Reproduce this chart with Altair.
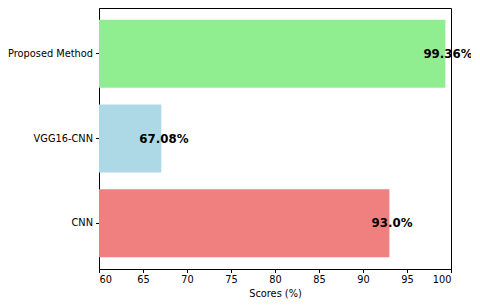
import altair as alt
import pandas as pd

models = ["CNN", "VGG16-CNN", "Proposed Method"]
scores = [93.0, 67.08, 99.36]
labels = ["93.0%", "67.08%", "99.36%"]
colors = ["#F08080", "#ADD8E6", "#90EE90"]
x_ticks = [60, 65, 70, 75, 80, 85, 90, 95, 100]

df = pd.DataFrame({"model": models, "score": scores, "label": labels})
order = list(reversed(models))

y = alt.Y("model:N", sort=order, title=None,
          scale=alt.Scale(paddingInner=0.2, paddingOuter=0.14),
          axis=alt.Axis(labelFontSize=9.8, labelColor="black", tickColor="black",
                        domainColor="black", tickSize=3.5, labelPadding=3,
                        labelFont="DejaVu Sans"))
x = alt.X("score:Q", title="Scores (%)",
          scale=alt.Scale(domain=[60, 100], nice=False, zero=False),
          axis=alt.Axis(values=x_ticks, grid=False, labelFontSize=9.8, labelColor="black",
                        tickColor="black", domainColor="black", tickSize=3.5,
                        labelPadding=2, titleFontSize=9.8, titleFontWeight="normal",
                        titleColor="black", titlePadding=4, labelFont="DejaVu Sans",
                        titleFont="DejaVu Sans"))

bars = alt.Chart(df).mark_bar(clip=True).encode(
    x=x, y=y,
    color=alt.Color("model:N", scale=alt.Scale(domain=models, range=colors), legend=None),
)
text = alt.Chart(df).mark_text(fontWeight="bold", fontSize=11.8, font="DejaVu Sans",
                               align="center", baseline="middle", dx=2.6, color="black").encode(
    x=alt.X("score:Q"), y=alt.Y("model:N", sort=order), text="label:N"
)

chart = alt.layer(bars, text).properties(
    width=352, height=261,
    background="white",
    autosize=alt.AutoSizeParams(type="none"),
    padding={"left": 91, "top": 0, "right": 20, "bottom": 30},
).configure_view(stroke="black", strokeWidth=1)

chart.save("out.html", embed_options={"renderer": "svg", "actions": False})
